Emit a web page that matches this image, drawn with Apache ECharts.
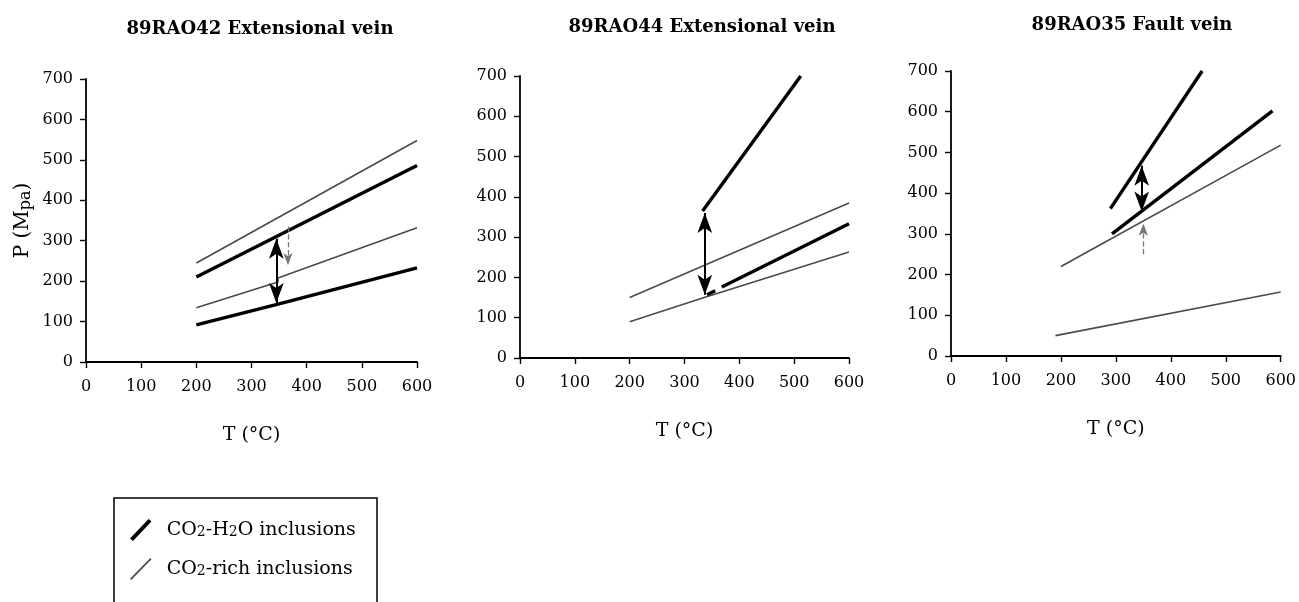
<!DOCTYPE html>
<html>
<head>
<meta charset="utf-8">
<script src="https://cdn.jsdelivr.net/npm/echarts@6/dist/echarts.min.js"></script>
<style>
  html, body { margin: 0; padding: 0; background: #fff; }
  #main { width: 1299px; height: 602px; }
</style>
</head>
<body>
<div id="main"></div>
<script>
// panel titles
var titles = ['89RAO42 Extensional vein', '89RAO44 Extensional vein', '89RAO35 Fault vein'];
var xTicks = [0, 100, 200, 300, 400, 500, 600];
var yTicks = [0, 100, 200, 300, 400, 500, 600, 700];

// [T, P] pairs, CO2-H2O inclusions = thick, CO2-rich = thin
var p1Thick1 = [[200, 210], [600, 486]];
var p1Thick2 = [[200, 92], [350, 144], [600, 233]];
var p1Thin1 = [[200, 245], [600, 548]];
var p1Thin2 = [[200, 134], [348, 198], [348, 208], [600, 332]];
var p1Arrow = [[345, 146], [345, 305]];
var p1DashArrow = [[366, 335], [366, 240]];

var p2Thick1 = [[333, 365], [512, 700]];
var p2Thick2 = [[341, 157], [356, 167], [362, '-'], [368, 176], [600, 333]];
var p2Thin1 = [[200, 150], [600, 385]];
var p2Thin2 = [[200, 90], [340, 152], [355, 158], [600, 263]];
var p2Arrow = [[337, 157], [337, 360]];

var p3Thick1 = [[290, 362], [457, 700]];
var p3Thick2 = [[293, 300], [585, 602]];
var p3Thin1 = [[200, 220], [600, 518]];
var p3Thin2 = [[190, 50], [600, 157]];
var p3Arrow = [[347, 355], [347, 467]];
var p3DashArrow = [[350, 250], [350, 325]];

var nameThick = 'CO2-H2O inclusions';
var nameThin = 'CO2-rich inclusions';

var FONT = 'DejaVu Serif';
var myChart = echarts.init(document.getElementById('main'));

var grids = [
  { left: 86, top: 79, width: 331, height: 283 },
  { left: 520, top: 76, width: 329, height: 282 },
  { left: 951, top: 71, width: 332, height: 285 }
];
var titlePos = [[255, 15], [697, 13], [1127, 11]];

function axisBase() {
  return {
    min: 0,
    interval: 100,
    splitLine: { show: false },
    axisLine: { show: true, onZero: false, lineStyle: { color: '#000', width: 1.8 } },
    axisTick: { show: true, length: 6, lineStyle: { color: '#000', width: 1.4 } },
    axisLabel: { color: '#000', fontFamily: FONT, fontSize: 16 }
  };
}

var xAxes = [], yAxes = [];
for (var i = 0; i < 3; i++) {
  var xa = axisBase();
  xa.type = 'value';
  xa.gridIndex = i;
  xa.max = xTicks[xTicks.length - 1];
  xa.axisLabel.margin = 17;
  xa.name = 'T (°C)';
  xa.nameLocation = 'middle';
  xa.nameGap = 64;
  xa.nameTextStyle = { color: '#000', fontFamily: FONT, fontSize: 19 };
  xAxes.push(xa);

  var ya = axisBase();
  ya.type = 'value';
  ya.gridIndex = i;
  ya.max = yTicks[yTicks.length - 1];
  ya.axisLabel.margin = 13;
  if (i === 0) {
    ya.name = 'P (M{s|pa})';
    ya.nameLocation = 'middle';
    ya.nameRotate = 90;
    ya.nameGap = 52;
    ya.nameTextStyle = {
      color: '#000', fontFamily: FONT, fontSize: 20,
      rich: { s: { fontFamily: FONT, fontSize: 16, color: '#000', padding: [7, 0, 0, 0] } }
    };
  }
  yAxes.push(ya);
}

function line(idx, name, data, thick) {
  return {
    type: 'line',
    name: name,
    xAxisIndex: idx,
    yAxisIndex: idx,
    data: data,
    symbol: 'none',
    connectNulls: false,
    lineStyle: { color: thick ? '#000' : '#4a4a4a', width: thick ? 3.4 : 1.6 },
    itemStyle: { color: thick ? '#000' : '#4a4a4a' },
    z: thick ? 3 : 2
  };
}

function arrows(series, solid, dashed) {
  var data = [];
  if (solid) {
    data.push([
      { coord: solid[0], symbol: 'arrow', lineStyle: { color: '#000', width: 2, type: 'solid' } },
      { coord: solid[1], symbol: 'arrow' }
    ]);
  }
  if (dashed) {
    data.push([
      { coord: dashed[0], symbol: 'none', symbolSize: [7, 12], lineStyle: { color: '#777', width: 1.3, type: 'dashed' } },
      { coord: dashed[1], symbol: 'arrow', symbolSize: [7, 12] }
    ]);
  }
  series.markLine = {
    silent: true,
    animation: false,
    symbolSize: [11, 20],
    label: { show: false },
    lineStyle: { color: '#000' },
    data: data
  };
  return series;
}

var series = [
  arrows(line(0, nameThick, p1Thick1, true), p1Arrow, p1DashArrow),
  line(0, nameThick, p1Thick2, true),
  line(0, nameThin, p1Thin1, false),
  line(0, nameThin, p1Thin2, false),
  arrows(line(1, nameThick, p2Thick1, true), p2Arrow, null),
  line(1, nameThick, p2Thick2, true),
  line(1, nameThin, p2Thin1, false),
  line(1, nameThin, p2Thin2, false),
  arrows(line(2, nameThick, p3Thick1, true), p3Arrow, p3DashArrow),
  line(2, nameThick, p3Thick2, true),
  line(2, nameThin, p3Thin1, false),
  line(2, nameThin, p3Thin2, false)
];

myChart.setOption({
  animation: false,
  backgroundColor: '#fff',
  title: titles.map(function (t, i) {
    return {
      text: t,
      left: titlePos[i][0],
      top: titlePos[i][1],
      textAlign: 'center',
      textStyle: { color: '#000', fontFamily: FONT, fontSize: 18, fontWeight: 'bold' }
    };
  }),
  grid: grids,
  xAxis: xAxes,
  yAxis: yAxes,
  legend: {
    orient: 'vertical',
    left: 125,
    top: 514,
    itemWidth: 24,
    itemHeight: 22,
    itemGap: 17,
    selectedMode: false,
    data: [
      { name: nameThick, icon: 'path://M0,20 L19,0 L22,2.5 L3,22.5 Z' },
      { name: nameThin, icon: 'path://M0,20.5 L20,0 L21.2,1.2 L1.2,21.7 Z' }
    ],
    formatter: function (n) { return n.replace(/2/g, '{s|2}'); },
    textStyle: {
      color: '#000', fontFamily: FONT, fontSize: 19, padding: [0, 0, 0, 9],
      rich: { s: { color: '#000', fontFamily: FONT, fontSize: 14, padding: [4, 0, 0, 0] } }
    }
  },
  graphic: [{
    type: 'rect',
    shape: { x: 114, y: 498, width: 263, height: 140 },
    style: { fill: 'none', stroke: '#000', lineWidth: 1.5 },
    silent: true
  }],
  series: series
});
</script>
</body>
</html>
